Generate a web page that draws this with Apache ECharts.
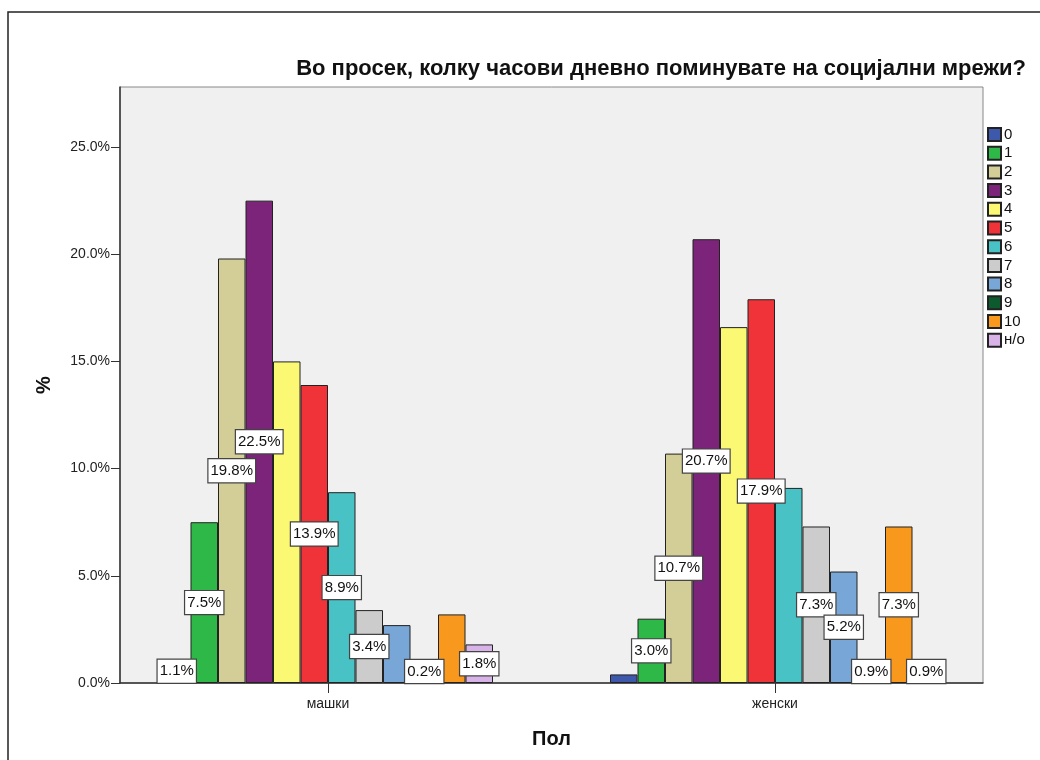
<!DOCTYPE html>
<html>
<head>
<meta charset="utf-8">
<script src="https://cdn.jsdelivr.net/npm/echarts@6/dist/echarts.min.js"></script>
<style>
  html, body { margin: 0; padding: 0; background: #fff; }
  #main { width: 1040px; height: 760px; }
</style>
</head>
<body>
<div id="main"></div>
<script>
// категории и вредности (%)
var kategorii = ['машки', 'женски'];
var odgovori = ['0', '1', '2', '3', '4', '5', '6', '7', '8', '9', '10', 'н/о'];
var boi = ['#3e58ac', '#2eb848', '#d3ce97', '#7b2479', '#fbf873', '#ef3338',
           '#48c2c5', '#cccccc', '#78a6d6', '#0c5a2e', '#f8981d', '#d8b3e7'];
var mashki = [1.1, 7.5, 19.8, 22.5, 15.0, 13.9, 8.9, 3.4, 2.7, 0.2, 3.2, 1.8];
var zhenski = [0.4, 3.0, 10.7, 20.7, 16.6, 17.9, 9.1, 7.3, 5.2, 0.9, 7.3, 0.9];
// кои етикети се гледаат (SPSS ги крие преклопените)
var etiketiMashki = [1, 1, 1, 1, 0, 1, 1, 1, 0, 1, 0, 1];
var etiketiZhenski = [0, 1, 1, 1, 0, 1, 0, 1, 1, 1, 1, 1];
var yTicks = [0, 5, 10, 15, 20, 25];

var chart = echarts.init(document.getElementById('main'));

function tocka(v, show) {
    return {
        value: v,
        label: {
            show: !!show,
            position: v < 1.0 ? 'insideBottom' : 'inside',
            distance: 0
        }
    };
}

var series = [];
for (var i = 0; i < odgovori.length; i++) {
    series.push({
        name: odgovori[i],
        type: 'bar',
        xAxisIndex: 0,
        yAxisIndex: 0,
        barWidth: 27.5,
        barGap: '0%',
        itemStyle: { color: boi[i], borderColor: '#222', borderWidth: 1 },
        label: {
            formatter: function (p) { return p.value.toFixed(1) + '%'; },
            color: '#111',
            fontSize: 15,
            fontFamily: 'Liberation Sans, Arial, sans-serif',
            backgroundColor: '#fff',
            borderColor: '#444',
            borderWidth: 1.2,
            padding: [4, 2, 3, 2],
            lineHeight: 16
        },
        data: [tocka(mashki[i], etiketiMashki[i]), tocka(zhenski[i], etiketiZhenski[i])]
    });
}

var option = {
    animation: false,
    textStyle: { fontFamily: 'Liberation Sans, Arial, sans-serif' },
    title: {
        text: 'Во просек, колку часови дневно поминувате на социјални мрежи?',
        right: 9,
        top: 53,
        textStyle: { fontSize: 22, fontWeight: 'bold', color: '#111' }
    },
    legend: {
        orient: 'vertical',
        left: 987,
        top: 127,
        padding: 0,
        itemWidth: 13,
        itemHeight: 13,
        itemGap: 3.7,
        icon: 'rect',
        textStyle: { fontSize: 15, color: '#111', padding: [0, 0, 0, -2] },
        data: odgovori
    },
    graphic: [{
        type: 'rect',
        shape: { x: 8, y: 12, width: 1100, height: 1000 },
        style: { fill: 'none', stroke: '#222', lineWidth: 1.5 },
        z: -10
    }],
    grid: [
        { left: 104.5, right: 41.5, top: 87, bottom: 77 },
        { left: 120, right: 57, top: 87, bottom: 77, show: true,
          backgroundColor: '#f0f0f0', borderColor: '#888', borderWidth: 1, z: -1 }
    ],
    xAxis: [{
        type: 'category',
        gridIndex: 0,
        data: kategorii,
        axisLine: { show: false },
        axisTick: { show: true, alignWithLabel: true, length: 10, lineStyle: { color: '#333' } },
        axisLabel: { fontSize: 14, color: '#222', margin: 14 },
        name: 'Пол',
        nameLocation: 'middle',
        nameGap: 46,
        nameTextStyle: { fontSize: 20, fontWeight: 'bold', color: '#111' }
    }, {
        type: 'category',
        gridIndex: 1,
        data: kategorii,
        axisLine: { show: true, lineStyle: { color: '#333', width: 1.5 } },
        axisTick: { show: false },
        axisLabel: { show: false }
    }],
    yAxis: [{
        type: 'value',
        gridIndex: 0,
        min: 0,
        max: 27.8,
        show: false
    }, {
        type: 'value',
        gridIndex: 1,
        min: 0,
        max: 27.8,
        interval: 5,
        axisLine: { show: true, lineStyle: { color: '#333', width: 1.5 } },
        axisTick: { show: true, length: 9, lineStyle: { color: '#333' } },
        splitLine: { show: false },
        axisLabel: {
            fontSize: 14,
            color: '#222',
            margin: 10,
            showMaxLabel: false,
            formatter: function (v) { return yTicks.indexOf(v) >= 0 ? v.toFixed(1) + '%' : ''; }
        },
        name: '%',
        nameLocation: 'middle',
        nameGap: 66,
        nameRotate: 90,
        nameTextStyle: { fontSize: 20, fontWeight: 'bold', color: '#111' }
    }],
    series: series
};

chart.setOption(option);
</script>
</body>
</html>
